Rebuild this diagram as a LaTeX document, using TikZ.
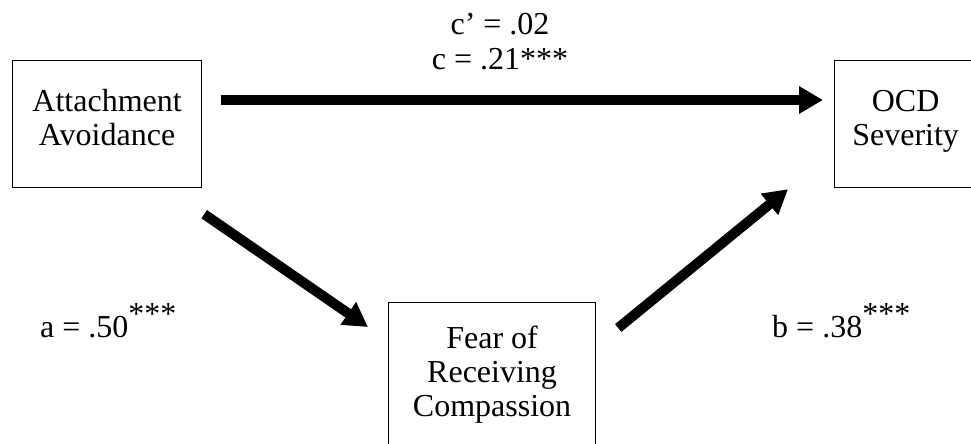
\documentclass[tikz,border=0pt]{standalone}
\usepackage{fontspec}
\setmainfont{Liberation Serif}
\usepackage{tikz}
\usetikzlibrary{arrows.meta,positioning,calc}
\tikzstyle{box} = [draw, line width=1.2pt, align=center, inner sep=0pt, text depth=42pt, font=\fontsize{32}{34}\selectfont]
\tikzstyle{arrow} = [line width=10pt, -{Triangle[length=24pt,width=26pt]}]
\tikzstyle{coef} = [inner sep=0pt, font=\fontsize{32}{34}\selectfont]

\begin{document}
\begin{tikzpicture}[x=1pt, y=-1pt]
    \useasboundingbox (0,0) rectangle (971,444);
    \clip (0,0) rectangle (971,444);
    \node[box, anchor=north west, minimum width=189pt, text height=85pt] (avoid) at (12,60) {Attachment\\Avoidance};
    \node[box, anchor=north west, minimum width=142pt, text height=85pt] (ocd) at (834,60) {OCD\\Severity};
    \node[box, anchor=north west, minimum width=207pt, text height=114pt] (fear) at (388,302) {Fear of\\Receiving\\Compassion};
    \draw[arrow] ($(avoid.north east)+(19,40)$) -- ($(ocd.north west)+(-11,40)$);
    \draw[arrow] ($(avoid.south east)+(2,26)$) -- ($(fear.north west)+(-20,25)$);
    \draw[arrow] ($(fear.north east)+(22,26)$) -- ($(ocd.south west)+(-46,1)$);
    \node[coef, anchor=base] (cprime) at (500,35) {c’ = .02};
    \node[coef, anchor=base] (ctotal) at (500,70) {c = .21***};
    \node[coef, anchor=base west] (a) at (40,337) {a = .50\raisebox{13pt}{***}};
    \node[coef, anchor=base west] (b) at (772,337) {b = .38\raisebox{13pt}{***}};
\end{tikzpicture}
\end{document}
